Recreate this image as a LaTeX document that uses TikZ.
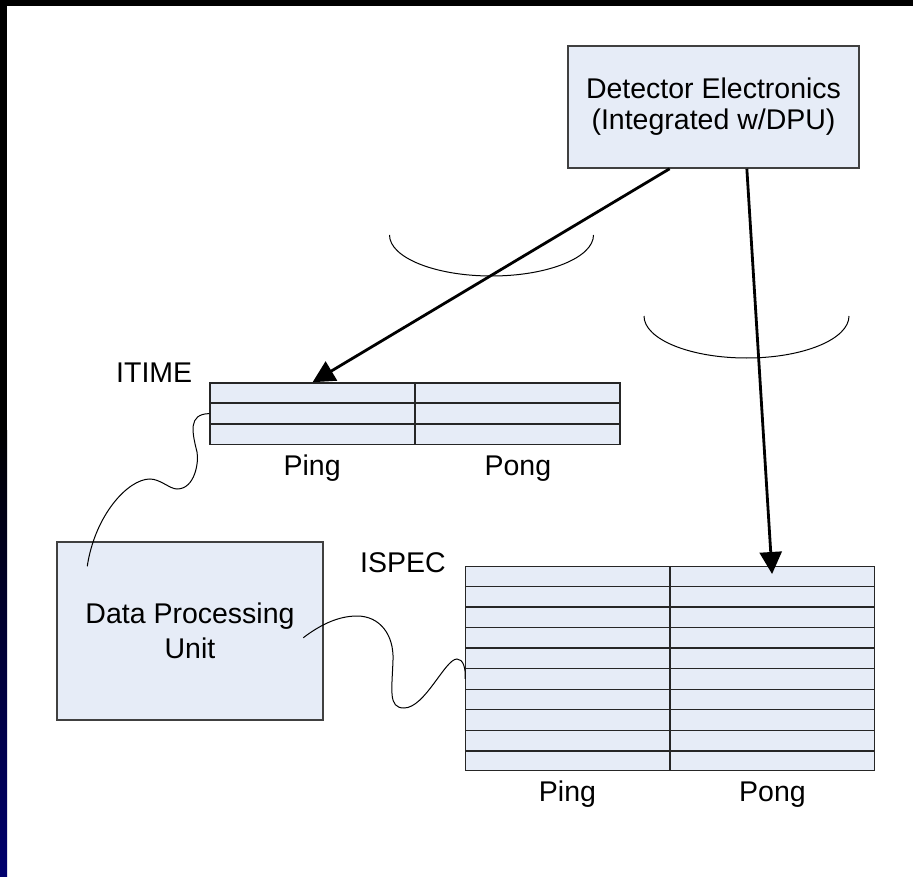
\documentclass[tikz,border=0pt]{standalone}
\usepackage{fontspec}
\setmainfont{Liberation Sans}
\usepackage{tikz}
\usetikzlibrary{arrows.meta,positioning,calc}
\definecolor{panelblue}{RGB}{230,236,247}
\definecolor{edgegray}{RGB}{64,64,64}
\definecolor{slidenavy}{RGB}{0,0,110}

\begin{document}
\begin{tikzpicture}[
  x=1pt, y=-1pt,
  font=\fontsize{28.5}{31}\selectfont,
  box/.style={draw=edgegray, line width=1.5pt, fill=panelblue, align=center, inner sep=0pt},
  tbl/.style={draw=black!85, line width=1.4pt, fill=panelblue, inner sep=0pt},
  rowline/.style={draw=black!85, line width=1.4pt},
  lbl/.style={inner sep=0pt},
  arr/.style={-{Triangle[length=22pt,width=22pt]}, line width=2.8pt},
  wire/.style={line width=1pt},
  ring/.style={line width=1pt}
]
\useasboundingbox (0,0) rectangle (913,877);
\fill[black] (0,0) rectangle (913,6);
\fill[black] (0,0) rectangle (7,877);
\shade[top color=black, bottom color=slidenavy] (0,430) rectangle (7,877);

\node[box, minimum width=291pt, minimum height=122pt] (det) at (713.5,107) {Detector Electronics\\(Integrated w/DPU)};
\node[box, minimum width=266pt, minimum height=178pt, font=\fontsize{28.5}{35}\selectfont] (dpu) at (190,631) {Data Processing\\Unit};

\node[tbl, minimum width=410pt, minimum height=61.3pt] (itime) at (415,413.6) {};
\foreach \k in {1,2}
  \draw[rowline] ($(itime.north west)!\k/3!(itime.south west)$) -- ($(itime.north east)!\k/3!(itime.south east)$);
\draw[rowline] (itime.north) -- (itime.south);

\node[tbl, minimum width=408.6pt, minimum height=204pt] (ispec) at (670,668.7) {};
\foreach \k in {1,...,9}
  \draw[rowline] ($(ispec.north west)!\k/10!(ispec.south west)$) -- ($(ispec.north east)!\k/10!(ispec.south east)$);
\draw[rowline] (ispec.north) -- (ispec.south);

\node[lbl, anchor=base west] (itimelbl) at (116,382) {ITIME};
\node[lbl, anchor=base west] (ispeclbl) at (360,572) {ISPEC};
\node[lbl, anchor=base] (itimeping) at ($(itime.south west)!0.25!(itime.south east)+(0,31)$) {Ping};
\node[lbl, anchor=base] (itimepong) at ($(itime.south west)!0.75!(itime.south east)+(0,31)$) {Pong};
\node[lbl, anchor=base] (ispecping) at ($(ispec.south west)!0.25!(ispec.south east)+(0,30.3)$) {Ping};
\node[lbl, anchor=base] (ispecpong) at ($(ispec.south west)!0.75!(ispec.south east)+(0,30.3)$) {Pong};

\draw[ring] (389.5,235) arc[start angle=180, end angle=360, x radius=102pt, y radius=41pt];
\draw[ring] (644,316) arc[start angle=180, end angle=360, x radius=102.5pt, y radius=42pt];

\draw[arr] ($(det.south west)!0.35!(det.south east)$) -- ($(itime.north west)!0.251!(itime.north east)$);
\draw[arr] ($(det.south west)!0.614!(det.south east)$) -- ($(ispec.north west)!0.749!(ispec.north east)+(0,8)$);

\coordinate (dpuin) at ($(dpu.north west)+(31,25)$);
\coordinate (dpuout) at ($(dpu.north east)+(-20.5,96.5)$);
\coordinate (ispecin) at ($(ispec.west)+(0,10.2)$);

\draw[wire] (itime.west) .. controls (188,414) and (192,432) .. (197,452)
  .. controls (199,462) and (195,489) .. (177,489)
  .. controls (170,489) and (160,479) .. (150,479)
  .. controls (128,479) and (95,515) .. (dpuin);
\draw[wire] (dpuout) .. controls (320,625) and (338,616) .. (357,616)
  .. controls (380,616) and (394,635) .. (393,660)
  .. controls (392,690) and (388,708) .. (404,708)
  .. controls (425,708) and (445,659) .. (457,659)
  .. controls (463,659) and (466,668) .. (ispecin);
\end{tikzpicture}
\end{document}
